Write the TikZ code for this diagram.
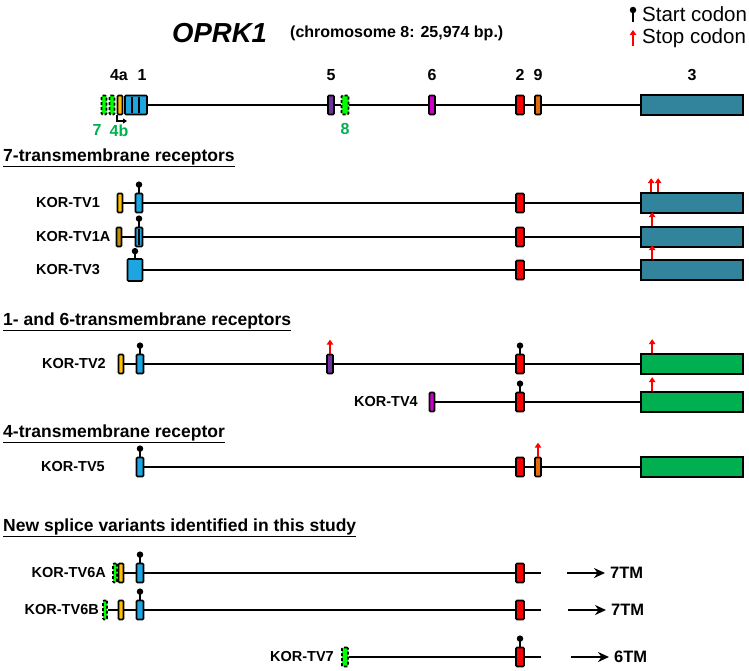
\documentclass[tikz,border=0pt]{standalone}
\usepackage{fontspec}
\setmainfont{Liberation Sans}
\usetikzlibrary{arrows.meta}
\definecolor{cteal}{HTML}{31849B}
\definecolor{cgreen}{HTML}{00B050}
\definecolor{cblue}{HTML}{1CA5DF}
\definecolor{cred}{HTML}{FF0000}
\definecolor{corange}{HTML}{E36C09}
\definecolor{cpurple}{HTML}{7030A0}
\definecolor{cmag}{HTML}{CC00CC}
\definecolor{cyellow}{HTML}{FFC000}
\definecolor{colive}{HTML}{BF9000}
\definecolor{clime}{HTML}{00FF00}
\definecolor{clabgreen}{HTML}{00B050}
\begin{document}
\begin{tikzpicture}[x=1pt,y=-1pt,
  exon/.style={draw=black,line width=1.7pt,minimum width=6pt,minimum height=19pt,inner sep=0pt,rounded corners=1pt},
  gexon/.style={exon,fill=clime,dash pattern=on 3pt off 2pt},
  bigbox/.style={draw=black,line width=1.7pt,minimum width=102pt,minimum height=20pt,inner sep=0pt},
  intron/.style={line width=1.7pt},
  pin/.style={line width=1.6pt},
  dot/.style={circle,fill=black,inner sep=0pt,minimum size=6.5pt},
  stopar/.style={line width=1.8pt,cred,-{Triangle[length=5pt,width=6.5pt]}},
  lab/.style={font=\bfseries\fontsize{14.5}{16}\selectfont,inner sep=0pt},
  exlab/.style={font=\bfseries\fontsize{16}{18}\selectfont,inner sep=0pt},
  head/.style={font=\bfseries\fontsize{17.5}{20}\selectfont,anchor=west,inner sep=0pt},
  tm/.style={font=\bfseries\fontsize{16.5}{18}\selectfont,anchor=west,inner sep=0pt},
  tmar/.style={line width=2.4pt,-{Stealth[length=11pt,width=10pt]}}]
\useasboundingbox (0,0) rectangle (749,671);

% Title
\node[font=\bfseries\itshape\fontsize{27.5}{30}\selectfont,inner sep=0pt,anchor=west] (title) at (172,33) {OPRK1};
\node[font=\bfseries\fontsize{16}{18}\selectfont,inner sep=0pt,anchor=west] (chr) at (290,33) {(chromosome 8: 25,974 bp.)};

% Legend
\node[font=\fontsize{20.5}{23}\selectfont,anchor=west,inner sep=0pt] (lstart) at (642,14) {Start codon};
\node[font=\fontsize{20.5}{23}\selectfont,anchor=west,inner sep=0pt] (lstop) at (642,38) {Stop codon};
\coordinate (ls1) at (633,22);
\draw[pin,line width=2pt] (ls1) -- ++(0,-12) node[dot] (lsd) {};
\coordinate (lt1) at (633,46);
\draw[stopar,line width=2.2pt] (lt1) -- ++(0,-16);

% ===== Gene structure =====
\node[gexon,minimum width=5pt] (g7) at (104,105) {};
\node[gexon,minimum width=5pt] (g7b) at (112,105) {};
\node[exon,fill=cyellow,minimum width=5pt] (g4a) at (120,105) {};
\node[exon,fill=cblue,minimum width=22pt] (g1) at (136,105) {};
\draw[line width=1.3pt] (132,97) -- (132,113) (139,97) -- (139,113);
\node[exon,fill=cpurple] (g5) at (331,105) {};
\node[gexon,minimum width=7pt] (g8) at (345,105) {};
\node[exon,fill=cmag] (g6) at (432,105) {};
\node[exon,fill=cred,minimum width=8pt] (g2) at (520,105) {};
\node[exon,fill=corange] (g9) at (538,105) {};
\node[bigbox,fill=cteal] (g3) at (692,105) {};
\draw[intron] (g1) -- (g5) (g8) -- (g6) (g6) -- (g2) (g2) -- (g9) (g9) -- (g3);
\draw[intron] (g5) -- (g8);
% labels
\node[exlab] (t4a) at (119,75) {4a};
\node[exlab] (t1) at (142,75) {1};
\node[exlab] (t5) at (331,75) {5};
\node[exlab] (t6) at (432,75) {6};
\node[exlab] (t2) at (520,75) {2};
\node[exlab] (t9) at (538,75) {9};
\node[exlab] (t3) at (692,75) {3};
\node[exlab,clabgreen] (t7) at (97,130) {7};
\node[exlab,clabgreen] (t4b) at (119,131) {4b};
\node[exlab,clabgreen] (t8) at (345,129) {8};
\coordinate (b1) at (117,115);
\coordinate (b2) at (127,121);
\draw[line width=1.4pt,-{Triangle[length=4pt,width=5pt]}] (b1) |- (b2);

% ===== 7TM =====
\node[head] (h1) at (3,158) {\underline{7-transmembrane receptors}};

% TV1
\node[lab,anchor=west] (l1) at (36,203) {KOR-TV1};
\node[exon,fill=cyellow,minimum width=5pt] (a1) at (120,203) {};
\node[exon,fill=cblue,minimum width=7pt] (a2) at (139,203) {};
\node[exon,fill=cred,minimum width=8pt] (a3) at (520,203) {};
\node[bigbox,fill=cteal] (a4) at (692,203) {};
\draw[intron] (a1) -- (a2) (a2) -- (a3) (a3) -- (a4);
\draw[pin] (a2.north) -- ++(0,-8) node[dot] (a2d) {};
\draw[stopar] ([xshift=11pt]a4.north west) -- ++(0,-14);
\draw[stopar] ([xshift=18pt]a4.north west) -- ++(0,-14);

% TV1A
\node[lab,anchor=west] (l2) at (36,237) {KOR-TV1A};
\node[exon,fill=colive,minimum width=5pt] (b1a) at (119,237) {};
\node[exon,fill=cblue,minimum width=7pt] (b2a) at (139,237) {};
\draw[line width=1.1pt] (139,229) -- (139,245);
\node[exon,fill=cred,minimum width=8pt] (b3a) at (520,237) {};
\node[bigbox,fill=cteal] (b4a) at (692,237) {};
\draw[intron] (b1a) -- (b2a) (b2a) -- (b3a) (b3a) -- (b4a);
\draw[pin] (b2a.north) -- ++(0,-8) node[dot] (b2d) {};
\draw[stopar] ([xshift=12pt]b4a.north west) -- ++(0,-14);

% TV3
\node[lab,anchor=west] (l3) at (36,270) {KOR-TV3};
\node[exon,fill=cblue,minimum width=15pt,minimum height=22pt] (c2) at (135,270) {};
\node[exon,fill=cred,minimum width=8pt] (c3) at (520,270) {};
\node[bigbox,fill=cteal] (c4) at (692,270) {};
\draw[intron] (c2) -- (c3) (c3) -- (c4);
\draw[pin] (c2.north) -- ++(0,-7) node[dot] (c2d) {};
\draw[stopar] ([xshift=12pt]c4.north west) -- ++(0,-14);

% ===== 1- and 6-TM =====
\node[head] (h2) at (3,322) {\underline{1- and 6-transmembrane receptors}};

% TV2
\node[lab,anchor=east] (l4) at (106,364) {KOR-TV2};
\node[exon,fill=cyellow,minimum width=5pt] (d1) at (121,364) {};
\node[exon,fill=cblue,minimum width=7pt] (d2) at (140,364) {};
\node[exon,fill=cpurple] (d5) at (330,364) {};
\node[exon,fill=cred,minimum width=8pt] (d3) at (520,364) {};
\node[bigbox,fill=cgreen] (d4) at (692,364) {};
\draw[intron] (d1) -- (d2) (d2) -- (d5) (d5) -- (d3) (d3) -- (d4);
\draw[pin] (d2.north) -- ++(0,-8) node[dot] (d2d) {};
\draw[stopar] (d5.north) -- ++(0,-14);
\draw[pin] (d3.north) -- ++(0,-8) node[dot] (d3d) {};
\draw[stopar] ([xshift=12pt]d4.north west) -- ++(0,-14);

% TV4
\node[lab,anchor=east] (l5) at (418,402) {KOR-TV4};
\node[exon,fill=cmag,minimum width=5pt] (e6) at (432,402) {};
\node[exon,fill=cred,minimum width=8pt] (e3) at (520,402) {};
\node[bigbox,fill=cgreen] (e4) at (692,402) {};
\draw[intron] (e6) -- (e3) (e3) -- (e4);
\draw[pin] (e3.north) -- ++(0,-8) node[dot] (e3d) {};
\draw[stopar] ([xshift=12pt]e4.north west) -- ++(0,-14);

% ===== 4TM =====
\node[head] (h3) at (3,434) {\underline{4-transmembrane receptor}};

% TV5
\node[lab,anchor=east] (l6) at (105,467) {KOR-TV5};
\node[exon,fill=cblue,minimum width=7pt] (f2) at (140,467) {};
\node[exon,fill=cred,minimum width=8pt] (f3) at (520,467) {};
\node[exon,fill=corange] (f9) at (538,467) {};
\node[bigbox,fill=cgreen] (f4) at (692,467) {};
\draw[intron] (f2) -- (f3) (f3) -- (f9) (f9) -- (f4);
\draw[pin] (f2.north) -- ++(0,-8) node[dot] (f2d) {};
\draw[stopar] (f9.north) -- ++(0,-14);

% ===== New =====
\node[head] (h4) at (3,528) {\underline{New splice variants identified in this study}};

% TV6A
\node[lab,anchor=east] (l7) at (106,573) {KOR-TV6A};
\node[gexon,minimum width=4pt] (k7) at (115,573) {};
\node[exon,fill=cyellow,minimum width=5pt] (k1) at (121,573) {};
\node[exon,fill=cblue,minimum width=7pt] (k2) at (140,573) {};
\node[exon,fill=cred,minimum width=8pt] (k3) at (520,573) {};
\coordinate (k5) at (541,573);
\draw[intron] (k1) -- (k2) (k2) -- (k3) (k3) -- (k5);
\draw[pin] (k2.north) -- ++(0,-8) node[dot] (k2d) {};
\coordinate (k6) at (567,573);
\node[tm] (k8) at (610,573) {7TM};
\draw[tmar] (k6) -- ([xshift=-5pt]k8.west);

% TV6B
\node[lab,anchor=east] (l8) at (99,610) {KOR-TV6B};
\node[gexon,minimum width=4pt] (m7) at (105,610) {};
\node[exon,fill=cyellow,minimum width=5pt] (m1) at (121,610) {};
\node[exon,fill=cblue,minimum width=7pt] (m2) at (140,610) {};
\node[exon,fill=cred,minimum width=8pt] (m3) at (520,610) {};
\coordinate (m5) at (541,610);
\draw[intron] (m7) -- (m1) (m1) -- (m2) (m2) -- (m3) (m3) -- (m5);
\draw[pin] (m2.north) -- ++(0,-8) node[dot] (m2d) {};
\coordinate (m6) at (568,610);
\node[tm] (m8) at (611,610) {7TM};
\draw[tmar] (m6) -- ([xshift=-5pt]m8.west);

% TV7
\node[lab,anchor=east] (l9) at (334,657) {KOR-TV7};
\node[gexon,minimum width=6pt] (n8) at (345,657) {};
\node[exon,fill=cred,minimum width=8pt] (n3) at (520,657) {};
\coordinate (n5) at (541,657);
\draw[intron] (n8) -- (n3) (n3) -- (n5);
\draw[pin] (n3.north) -- ++(0,-8) node[dot] (n3d) {};
\coordinate (n6) at (571,657);
\node[tm] (n9) at (614,657) {6TM};
\draw[tmar] (n6) -- ([xshift=-5pt]n9.west);
\end{tikzpicture}
\end{document}
